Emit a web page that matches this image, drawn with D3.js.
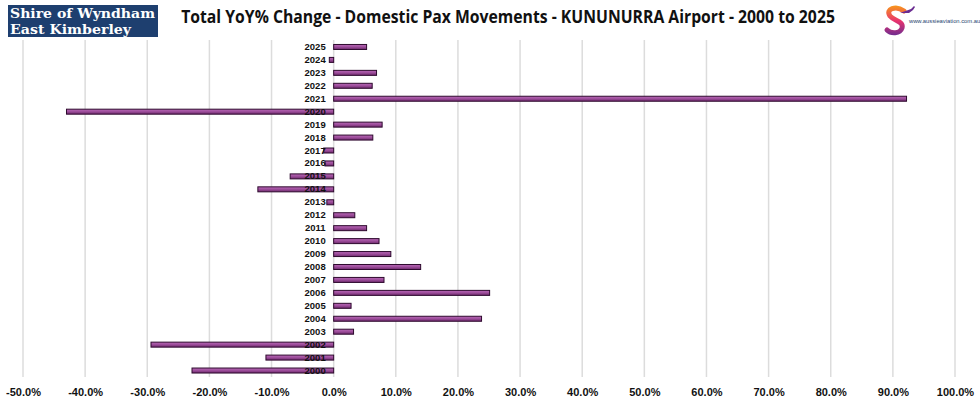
<!DOCTYPE html>
<html>
<head>
<meta charset="utf-8">
<script src="https://cdn.jsdelivr.net/npm/d3@7"></script>
<style>
  body { margin: 0; background: #fff; }
  svg { display: block; font-family: "Liberation Sans", Arial, sans-serif; }
</style>
</head>
<body>
<svg id="chart" width="980" height="404"></svg>
<script>
// years from bottom (2000) to top (2025)
const years = ["2000", "2001", "2002", "2003", "2004", "2005", "2006", "2007", "2008", "2009",
  "2010", "2011", "2012", "2013", "2014", "2015", "2016", "2017", "2018", "2019",
  "2020", "2021", "2022", "2023", "2024", "2025"];
// total YoY % change
const yoyChange = [-22.8, -10.9, -29.4, 3.2, 23.8, 2.8, 25.1, 8.1, 14.0, 9.2,
  7.3, 5.3, 3.4, -1.1, -12.2, -7.0, -1.4, -1.6, 6.3, 7.8,
  -43.0, 92.2, 6.2, 6.9, -0.7, 5.3];
const xTicks = [-50, -40, -30, -20, -10, 0, 10, 20, 30, 40, 50, 60, 70, 80, 90, 100];

const titleText = "Total YoY% Change - Domestic Pax Movements - KUNUNURRA Airport - 2000 to 2025";

const svg = d3.select("#chart");
const margin = { top: 40, bottom: 27, left: 23, right: 25 };
const width = 980, height = 404;

// scales
const x = d3.scaleLinear()
  .domain([-50, 100])
  .range([margin.left, width - margin.right]);

const y = d3.scaleBand()
  .domain(years.slice().reverse())
  .range([margin.top + 0.5, height - margin.bottom])
  .paddingInner(0.6)
  .paddingOuter(0.3);

// bar gradient
const defs = svg.append("defs");
const grad = defs.append("linearGradient")
  .attr("id", "barGrad")
  .attr("x1", 0).attr("y1", 0).attr("x2", 0).attr("y2", 1);
grad.append("stop").attr("offset", "0%").attr("stop-color", "#b868b6");
grad.append("stop").attr("offset", "45%").attr("stop-color", "#a0509e");
grad.append("stop").attr("offset", "100%").attr("stop-color", "#6e2a6c");

const logoGrad = defs.append("linearGradient")
  .attr("id", "logoGrad")
  .attr("gradientUnits", "userSpaceOnUse")
  .attr("x1", 895).attr("y1", 6).attr("x2", 895).attr("y2", 36);
logoGrad.append("stop").attr("offset", "0%").attr("stop-color", "#f7941d");
logoGrad.append("stop").attr("offset", "50%").attr("stop-color", "#e8336f");
logoGrad.append("stop").attr("offset", "100%").attr("stop-color", "#6a2c91");

// gridlines
svg.append("g")
  .attr("class", "grid")
  .selectAll("line")
  .data(xTicks)
  .join("line")
  .attr("x1", (d) => x(d))
  .attr("x2", (d) => x(d))
  .attr("y1", margin.top)
  .attr("y2", height - margin.bottom)
  .attr("stroke", "#dcdcdc")
  .attr("stroke-width", 1.5);

// x axis labels
const xAxis = d3.axisBottom(x)
  .tickValues(xTicks)
  .tickSize(0)
  .tickPadding(0)
  .tickFormat((d) => d.toFixed(1) + "%");

svg.append("g")
  .attr("class", "x-axis")
  .attr("transform", `translate(0, ${height - 8})`)
  .call(xAxis)
  .call((g) => g.select(".domain").remove())
  .call((g) => g.selectAll("text")
    .attr("dy", "0")
    .attr("fill", "#111")
    .style("font-size", "11px")
    .style("font-weight", "bold"));

// bars
const barData = years.map((yr, i) => [yr, yoyChange[i]]);
const bh = 5;
svg.append("g")
  .attr("class", "bars")
  .selectAll("rect")
  .data(barData)
  .join("rect")
  .attr("x", (d) => x(Math.min(0, d[1])))
  .attr("y", (d) => y(d[0]) + y.bandwidth() / 2 - bh / 2)
  .attr("width", (d) => Math.abs(x(d[1]) - x(0)))
  .attr("height", bh)
  .attr("fill", "url(#barGrad)")
  .attr("stroke", "#2e0a2e")
  .attr("stroke-width", 1);

// category labels next to the zero line
const yAxis = d3.axisLeft(y).tickSize(0).tickPadding(8);
svg.append("g")
  .attr("class", "y-axis")
  .attr("transform", `translate(${x(0)}, 0)`)
  .call(yAxis)
  .call((g) => g.select(".domain").remove())
  .call((g) => g.selectAll("text")
    .attr("fill", "#111")
    .style("font-size", "9.5px")
    .style("font-weight", "bold"));

// title (narrowed horizontally, like the condensed face in the original)
svg.append("text")
  .attr("transform", "translate(508,23) scale(0.875,1)")
  .attr("text-anchor", "middle")
  .style("font-family", "'Open Sans', sans-serif")
  .style("font-size", "18px")
  .style("font-weight", "bold")
  .attr("fill", "#111")
  .text(titleText);

// left logo box
const shire = svg.append("g").attr("class", "shire-logo");
shire.append("rect")
  .attr("x", 8).attr("y", 5)
  .attr("width", 150).attr("height", 32)
  .attr("fill", "#1e3f6f");
shire.append("text")
  .attr("x", 10).attr("y", 18)
  .attr("fill", "#fff")
  .style("font-family", "'DejaVu Serif', serif")
  .style("font-size", "13.5px")
  .style("font-weight", "bold")
  .attr("textLength", 145)
  .attr("lengthAdjust", "spacingAndGlyphs")
  .text("Shire of Wyndham");
shire.append("text")
  .attr("x", 10).attr("y", 33.5)
  .attr("fill", "#fff")
  .style("font-family", "'DejaVu Serif', serif")
  .style("font-size", "13.5px")
  .style("font-weight", "bold")
  .attr("textLength", 121)
  .attr("lengthAdjust", "spacingAndGlyphs")
  .text("East Kimberley");

// right logo
const aussie = svg.append("g").attr("class", "aussie-logo");
aussie.append("path")
  .attr("d", "M904,11 C896,5 885,9 890,16 C894,21 904,21 902,28 C900,34 891,34 887,30")
  .attr("fill", "none")
  .attr("stroke", "url(#logoGrad)")
  .attr("stroke-width", 5)
  .attr("stroke-linecap", "round");
aussie.append("path")
  .attr("d", "M900,13 L911,9 L914,6 L915,7 L913,10 L909,13 Z")
  .attr("fill", "#6a2c91");
aussie.append("text")
  .attr("x", 909).attr("y", 23)
  .style("font-size", "5.8px")
  .attr("fill", "#1e3f6f")
  .text("www.aussieaviation.com.au");
</script>
</body>
</html>
